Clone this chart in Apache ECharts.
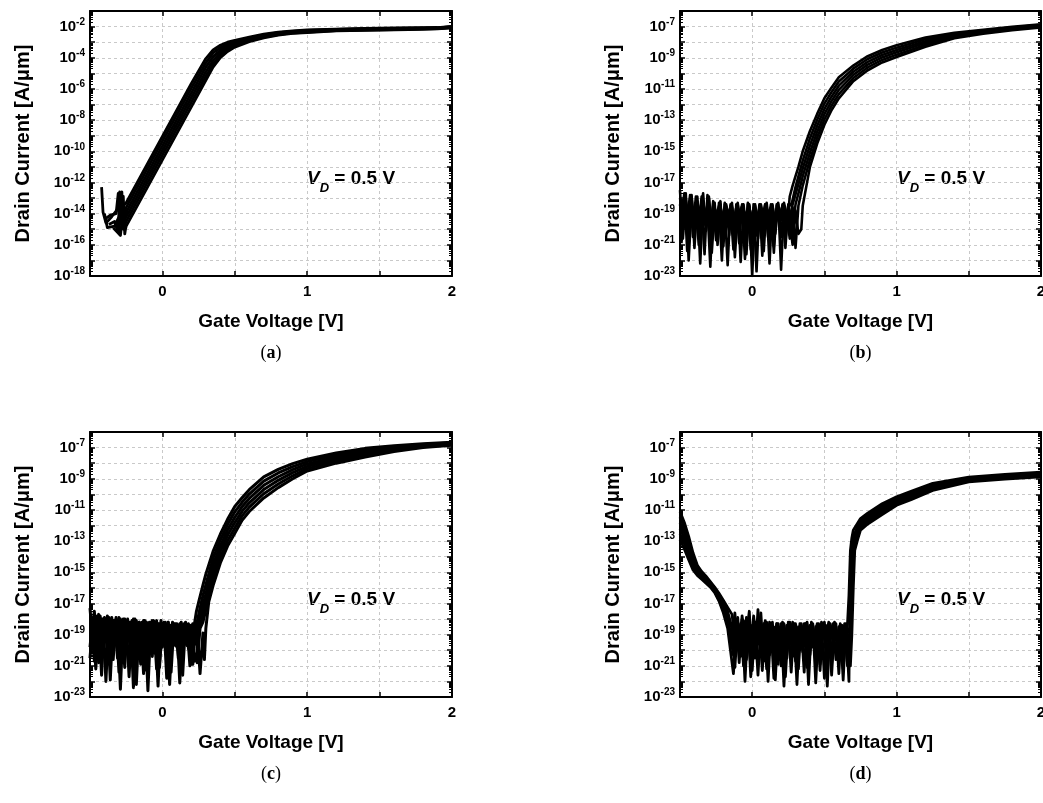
<!DOCTYPE html>
<html><head><meta charset="utf-8">
<script src="https://cdn.jsdelivr.net/npm/echarts@6/dist/echarts.min.js"></script>
<style>html,body{margin:0;padding:0;background:#fff}#c{width:1043px;height:803px}</style>
</head><body><div id="c"></div>
<script>
// ---- tick labels ----
const xTickLabels = [0, 1, 2];
const aYTicks = [-18, -16, -14, -12, -10, -8, -6, -4, -2];
const bcdYTicks = [-23, -21, -19, -17, -15, -13, -11, -9, -7];

// All current values are log10(I [A/um]); the y axes are drawn in decades.

// ---- panel (a) ----
const aStart1 = [[-0.42,-12.3],[-0.41,-13.9],[-0.39,-14.6],[-0.35,-14.2],[-0.31,-13.7],[-0.295,-12.6],[-0.285,-13.9],[-0.27,-13.5]];
const aStart2 = [[-0.40,-14.0],[-0.38,-14.9],[-0.33,-14.8],[-0.30,-14.2],[-0.29,-12.8],[-0.28,-14.2],[-0.265,-14.0]];
const aStart3 = [[-0.39,-14.3],[-0.36,-14.1],[-0.32,-14.0],[-0.305,-12.7],[-0.295,-14.5],[-0.27,-14.3]];
const aStart4 = [[-0.37,-14.7],[-0.33,-14.5],[-0.31,-15.1],[-0.29,-13.2],[-0.275,-14.6],[-0.26,-14.4]];
const aStart5 = [[-0.34,-14.9],[-0.30,-15.3],[-0.29,-13.9],[-0.28,-12.6],[-0.27,-15.0],[-0.26,-14.7]];
const aStart6 = [[-0.32,-15.0],[-0.29,-15.4],[-0.275,-14.2],[-0.27,-12.9],[-0.26,-15.3],[-0.255,-15.0]];
const aX = [-0.25,-0.2,-0.1,0,0.1,0.2,0.3,0.35,0.4,0.45,0.5,0.6,0.7,0.8,0.9,1.0,1.2,1.4,1.6,1.8,1.9,2.0];
const aY1 = [-13.3,-12.45,-10.75,-9.05,-7.35,-5.65,-4.05,-3.5,-3.2,-3.0,-2.88,-2.67,-2.48,-2.35,-2.28,-2.22,-2.16,-2.12,-2.09,-2.07,-2.06,-1.99];
const aY2 = [-13.6,-12.75,-11.05,-9.35,-7.65,-5.95,-4.33,-3.69,-3.36,-3.12,-2.97,-2.73,-2.53,-2.39,-2.31,-2.25,-2.18,-2.14,-2.11,-2.09,-2.08,-2.01];
const aY3 = [-13.9,-13.05,-11.35,-9.65,-7.95,-6.25,-4.6,-3.93,-3.52,-3.24,-3.06,-2.79,-2.58,-2.43,-2.34,-2.28,-2.21,-2.17,-2.14,-2.11,-2.09,-2.02];
const aY4 = [-14.2,-13.35,-11.65,-9.95,-8.25,-6.55,-4.9,-4.17,-3.68,-3.36,-3.14,-2.85,-2.62,-2.47,-2.38,-2.32,-2.23,-2.19,-2.16,-2.13,-2.11,-2.04];
const aY5 = [-14.5,-13.65,-11.95,-10.25,-8.55,-6.85,-5.18,-4.41,-3.84,-3.48,-3.23,-2.91,-2.67,-2.51,-2.41,-2.35,-2.26,-2.22,-2.19,-2.15,-2.13,-2.06];
const aY6 = [-14.8,-13.95,-12.25,-10.55,-8.85,-7.15,-5.45,-4.6,-4.0,-3.6,-3.32,-2.97,-2.72,-2.55,-2.44,-2.38,-2.28,-2.24,-2.21,-2.17,-2.15,-2.08];

// ---- panel (b) ----
const bNoiseX = [-0.50,-0.48,-0.46,-0.44,-0.42,-0.40,-0.38,-0.36,-0.34,-0.32,-0.30,-0.28,-0.26,-0.24,-0.22,-0.20,-0.18,-0.16,-0.14,-0.12,-0.10,-0.08,-0.06,-0.04,-0.02,0,0.02,0.04,0.06,0.08,0.10,0.12,0.14,0.16,0.18,0.20,0.22,0.24];
const bNoiseXb = [-0.49,-0.47,-0.45,-0.43,-0.41,-0.39,-0.37,-0.35,-0.33,-0.31,-0.29,-0.27,-0.25,-0.23,-0.21,-0.19,-0.17,-0.15,-0.13,-0.11,-0.09,-0.07,-0.05,-0.03,-0.01,0.01,0.03,0.05,0.07,0.09,0.11,0.13,0.15,0.17,0.19,0.21,0.23,0.25];
const bN1 = [-17.5,-20.6,-18.0,-19.4,-17.8,-21.2,-18.3,-19.0,-17.7,-20.1,-18.4,-19.6,-18.3,-21.0,-18.6,-19.3,-18.4,-20.4,-18.5,-19.8,-18.3,-22.1,-18.7,-19.5,-18.4,-20.9,-18.6,-19.2,-18.5,-21.4,-18.3,-19.9,-18.6,-20.3,-18.4,-19.4,-18.5,-20.0];
const bN2 = [-19.2,-17.7,-21.4,-18.2,-19.9,-17.9,-20.3,-18.1,-21.6,-17.8,-19.5,-18.5,-20.7,-18.3,-19.4,-18.6,-22.3,-18.4,-20.1,-18.6,-19.0,-18.5,-20.6,-18.3,-19.7,-18.6,-22.7,-18.5,-19.3,-18.4,-20.5,-18.7,-21.1,-18.4,-19.6,-18.5,-20.8,-18.6];
const bN3 = [-18.4,-19.8,-17.7,-22.0,-18.5,-19.2,-17.9,-20.8,-18.3,-19.5,-18.0,-21.5,-18.7,-19.1,-18.4,-20.5,-18.6,-19.7,-18.3,-21.8,-18.8,-19.3,-18.4,-20.2,-18.6,-23.0,-18.5,-20.6,-18.4,-19.4,-18.7,-21.0,-18.5,-19.6,-18.3,-22.6,-18.6,-19.2];
const bN4 = [-20.9,-18.1,-19.3,-17.8,-20.5,-18.6,-19.7,-17.9,-19.1,-18.6,-22.4,-18.3,-19.9,-18.6,-20.8,-18.4,-19.2,-18.7,-21.3,-18.4,-19.6,-18.5,-21.9,-18.4,-19.3,-18.7,-20.4,-18.4,-21.7,-18.6,-19.5,-18.4,-20.6,-18.7,-19.1,-18.5,-21.2,-18.4];
const bN5 = [-18.0,-19.1,-18.4,-20.2,-17.9,-19.6,-18.2,-22.2,-18.3,-19.3,-17.9,-20.0,-18.6,-19.5,-18.2,-21.1,-18.5,-19.0,-18.6,-20.7,-18.4,-19.4,-18.8,-21.6,-18.5,-19.8,-18.4,-20.1,-18.6,-19.3,-18.5,-22.2,-18.4,-19.7,-18.6,-20.5,-18.3,-19.1];
const bN6 = [-19.6,-18.3,-20.4,-18.0,-19.0,-18.4,-21.0,-18.2,-19.7,-18.4,-20.6,-18.2,-19.2,-18.5,-22.0,-18.3,-19.8,-18.5,-19.5,-18.6,-20.9,-18.4,-19.2,-18.7,-21.3,-18.4,-19.6,-18.6,-20.2,-18.4,-19.0,-18.6,-21.5,-18.5,-19.8,-18.4,-20.3,-18.5];
const bR1 = [[0.26,-17.9],[0.28,-17.2],[0.30,-16.6],[0.32,-16.0],[0.35,-15.0],[0.40,-13.7],[0.45,-12.6],[0.50,-11.6],[0.55,-10.9],[0.60,-10.25],[0.70,-9.5],[0.80,-8.9],[0.90,-8.5],[1.0,-8.2],[1.2,-7.7],[1.4,-7.4],[1.6,-7.2],[1.8,-7.02],[2.0,-6.85]];
const bR2 = [[0.26,-18.6],[0.275,-18.3],[0.30,-17.3],[0.32,-16.6],[0.35,-15.6],[0.40,-14.16],[0.45,-12.98],[0.50,-11.94],[0.55,-11.19],[0.60,-10.52],[0.70,-9.7],[0.80,-9.08],[0.90,-8.66],[1.0,-8.35],[1.2,-7.82],[1.4,-7.47],[1.6,-7.25],[1.8,-7.06],[2.0,-6.89]];
const bR3 = [[0.26,-19.3],[0.28,-18.4],[0.29,-18.3],[0.32,-17.1],[0.35,-16.1],[0.40,-14.62],[0.45,-13.36],[0.50,-12.28],[0.55,-11.48],[0.60,-10.79],[0.70,-9.9],[0.80,-9.26],[0.90,-8.82],[1.0,-8.5],[1.2,-7.94],[1.4,-7.54],[1.6,-7.3],[1.8,-7.1],[2.0,-6.93]];
const bR4 = [[0.26,-18.5],[0.28,-20.2],[0.30,-18.4],[0.32,-17.7],[0.35,-16.6],[0.40,-15.08],[0.45,-13.74],[0.50,-12.62],[0.55,-11.77],[0.60,-11.06],[0.70,-10.1],[0.80,-9.44],[0.90,-8.98],[1.0,-8.65],[1.2,-8.06],[1.4,-7.61],[1.6,-7.35],[1.8,-7.14],[2.0,-6.97]];
const bR5 = [[0.26,-20.6],[0.28,-18.6],[0.30,-21.2],[0.32,-18.5],[0.35,-17.2],[0.40,-15.54],[0.45,-14.12],[0.50,-12.96],[0.55,-12.06],[0.60,-11.33],[0.70,-10.3],[0.80,-9.62],[0.90,-9.14],[1.0,-8.8],[1.2,-8.18],[1.4,-7.68],[1.6,-7.4],[1.8,-7.19],[2.0,-7.01]];
const bR6 = [[0.26,-19.5],[0.28,-21.0],[0.30,-18.8],[0.32,-20.3],[0.34,-20.0],[0.35,-18.5],[0.40,-16.0],[0.45,-14.5],[0.50,-13.3],[0.55,-12.35],[0.60,-11.6],[0.70,-10.5],[0.80,-9.8],[0.90,-9.3],[1.0,-8.95],[1.2,-8.3],[1.4,-7.75],[1.6,-7.45],[1.8,-7.23],[2.0,-7.05]];

// ---- panel (c) ----
const cNoiseX = [-0.50,-0.48,-0.46,-0.44,-0.42,-0.40,-0.38,-0.36,-0.34,-0.32,-0.30,-0.28,-0.26,-0.24,-0.22,-0.20,-0.18,-0.16,-0.14,-0.12,-0.10,-0.08,-0.06,-0.04,-0.02,0,0.02,0.04,0.06,0.08,0.10,0.12,0.14,0.16,0.18,0.20,0.22];
const cNoiseXb = [-0.49,-0.47,-0.45,-0.43,-0.41,-0.39,-0.37,-0.35,-0.33,-0.31,-0.29,-0.27,-0.25,-0.23,-0.21,-0.19,-0.17,-0.15,-0.13,-0.11,-0.09,-0.07,-0.05,-0.03,-0.01,0.01,0.03,0.05,0.07,0.09,0.11,0.13,0.15,0.17,0.19,0.21,0.23];
const cN1 = [-17.3,-19.6,-17.9,-20.8,-18.0,-19.2,-17.8,-21.9,-18.1,-19.5,-17.9,-20.3,-18.0,-19.1,-18.2,-22.4,-18.1,-19.7,-18.2,-20.6,-18.3,-19.3,-18.1,-21.2,-18.3,-19.8,-18.2,-20.4,-18.4,-19.2,-18.3,-22.1,-18.4,-19.6,-18.3,-20.9,-18.4];
const cN2 = [-19.0,-17.5,-20.4,-17.8,-19.7,-18.0,-20.9,-17.9,-19.3,-18.1,-22.5,-18.0,-19.8,-18.2,-20.7,-18.0,-19.4,-18.3,-21.5,-18.2,-19.9,-18.1,-20.2,-18.3,-19.5,-18.2,-21.8,-18.4,-19.7,-18.3,-20.5,-18.2,-19.3,-18.4,-21.0,-18.3,-19.6];
const cN3 = [-20.5,-18.2,-19.3,-17.7,-21.6,-18.1,-19.5,-18.0,-20.6,-17.9,-19.2,-18.2,-21.1,-18.0,-19.6,-18.1,-20.3,-18.2,-19.4,-18.1,-22.6,-18.3,-19.7,-18.2,-20.8,-18.3,-19.1,-18.2,-21.4,-18.3,-19.8,-18.4,-20.1,-18.3,-19.4,-18.4,-20.7];
const cN4 = [-18.1,-20.7,-17.8,-19.4,-18.0,-22.0,-17.9,-19.8,-18.2,-20.5,-18.0,-19.3,-18.1,-21.7,-18.1,-19.5,-18.3,-20.9,-18.1,-19.2,-18.2,-20.4,-18.2,-22.3,-18.1,-19.6,-18.4,-20.6,-18.2,-19.3,-18.4,-21.3,-18.3,-19.7,-18.5,-20.2,-18.3];
const cN5 = [-19.8,-17.9,-21.2,-18.1,-19.0,-17.9,-20.2,-18.2,-19.6,-18.0,-21.4,-18.1,-19.4,-18.2,-20.1,-18.0,-22.2,-18.2,-19.3,-18.3,-20.7,-18.2,-19.5,-18.1,-21.1,-18.3,-19.4,-18.2,-20.3,-18.4,-19.0,-18.3,-21.6,-18.2,-19.9,-18.4,-20.4];
const cN6 = [-18.4,-19.1,-18.2,-20.0,-18.3,-19.4,-18.2,-20.6,-18.1,-19.9,-18.3,-20.8,-18.2,-19.0,-18.4,-20.3,-18.3,-19.6,-18.4,-21.3,-18.3,-19.4,-18.5,-20.5,-18.3,-19.2,-18.5,-22.2,-18.3,-19.7,-18.5,-20.1,-18.4,-19.3,-18.5,-20.9,-18.4];
const cR1 = [[0.235,-17.5],[0.25,-16.93],[0.28,-15.82],[0.30,-15.12],[0.35,-13.66],[0.40,-12.56],[0.45,-11.6],[0.50,-10.78],[0.55,-10.22],[0.60,-9.7],[0.70,-8.88],[0.80,-8.4],[0.90,-8.03],[1.0,-7.75],[1.2,-7.35],[1.4,-7.05],[1.6,-6.88],[1.8,-6.75],[2.0,-6.65]];
const cR2 = [[0.24,-18.2],[0.26,-17.3],[0.28,-16.5],[0.30,-15.8],[0.35,-14.1],[0.40,-12.93],[0.45,-11.94],[0.50,-11.12],[0.55,-10.51],[0.60,-9.98],[0.70,-9.15],[0.80,-8.63],[0.90,-8.22],[1.0,-7.9],[1.2,-7.48],[1.4,-7.16],[1.6,-6.95],[1.8,-6.8],[2.0,-6.69]];
const cR3 = [[0.24,-20.1],[0.25,-18.2],[0.28,-17.1],[0.30,-16.4],[0.35,-14.54],[0.40,-13.3],[0.45,-12.29],[0.50,-11.47],[0.55,-10.8],[0.60,-10.26],[0.70,-9.42],[0.80,-8.87],[0.90,-8.42],[1.0,-8.05],[1.2,-7.61],[1.4,-7.27],[1.6,-7.03],[1.8,-6.85],[2.0,-6.73]];
const cR4 = [[0.245,-18.7],[0.265,-18.3],[0.28,-17.6],[0.30,-16.9],[0.35,-14.97],[0.40,-13.66],[0.45,-12.63],[0.50,-11.81],[0.55,-11.09],[0.60,-10.54],[0.70,-9.69],[0.80,-9.1],[0.90,-8.61],[1.0,-8.2],[1.2,-7.74],[1.4,-7.38],[1.6,-7.1],[1.8,-6.9],[2.0,-6.77]];
const cR5 = [[0.24,-20.8],[0.26,-18.6],[0.28,-18.2],[0.30,-17.4],[0.35,-15.41],[0.40,-14.03],[0.45,-12.98],[0.50,-12.16],[0.55,-11.38],[0.60,-10.82],[0.70,-9.96],[0.80,-9.34],[0.90,-8.81],[1.0,-8.35],[1.2,-7.87],[1.4,-7.49],[1.6,-7.18],[1.8,-6.95],[2.0,-6.81]];
const cR6 = [[0.245,-19.3],[0.26,-21.5],[0.28,-18.9],[0.29,-20.6],[0.30,-18.6],[0.32,-16.9],[0.35,-15.85],[0.40,-14.4],[0.45,-13.32],[0.50,-12.5],[0.55,-11.67],[0.60,-11.1],[0.70,-10.23],[0.80,-9.57],[0.90,-9.0],[1.0,-8.5],[1.2,-8.0],[1.4,-7.6],[1.6,-7.25],[1.8,-7.0],[2.0,-6.85]];

// ---- panel (d) ----
const dFallX = [-0.50,-0.47,-0.44,-0.41,-0.38,-0.35,-0.32,-0.29,-0.26,-0.23,-0.20,-0.17];
const dF1 = [-11.1,-11.8,-12.7,-13.75,-14.55,-14.95,-15.25,-15.6,-15.95,-16.35,-16.8,-17.25];
const dF2 = [-11.46,-12.14,-13.0,-13.97,-14.68,-15.05,-15.34,-15.67,-16.02,-16.45,-16.96,-17.52];
const dF3 = [-11.82,-12.48,-13.3,-14.19,-14.81,-15.15,-15.43,-15.74,-16.09,-16.55,-17.12,-17.79];
const dF4 = [-12.18,-12.82,-13.6,-14.41,-14.94,-15.25,-15.52,-15.81,-16.16,-16.65,-17.28,-18.06];
const dF5 = [-12.54,-13.16,-13.9,-14.63,-15.07,-15.35,-15.61,-15.88,-16.23,-16.75,-17.44,-18.33];
const dF6 = [-12.9,-13.5,-14.2,-14.85,-15.2,-15.45,-15.7,-15.95,-16.3,-16.85,-17.6,-18.6];
const dNoiseX = [-0.14,-0.12,-0.10,-0.08,-0.06,-0.04,-0.02,0,0.02,0.04,0.06,0.08,0.10,0.12,0.14,0.16,0.18,0.20,0.22,0.24,0.26,0.28,0.30,0.32,0.34,0.36,0.38,0.40,0.42,0.44,0.46,0.48,0.50,0.52,0.54,0.56,0.58,0.60,0.62,0.64,0.66];
const dNoiseXb = [-0.13,-0.11,-0.09,-0.07,-0.05,-0.03,-0.01,0.01,0.03,0.05,0.07,0.09,0.11,0.13,0.15,0.17,0.19,0.21,0.23,0.25,0.27,0.29,0.31,0.33,0.35,0.37,0.39,0.41,0.43,0.45,0.47,0.49,0.51,0.53,0.55,0.57,0.59,0.61,0.63,0.65,0.67];
const dN1 = [-17.7,-19.2,-17.9,-20.4,-18.1,-19.0,-17.5,-21.3,-18.2,-19.6,-17.6,-20.7,-18.3,-19.4,-18.2,-21.9,-18.3,-19.8,-18.4,-20.5,-18.2,-19.3,-18.4,-21.2,-18.3,-19.7,-18.5,-20.3,-18.3,-22.1,-18.4,-19.5,-18.2,-20.8,-18.4,-19.2,-18.3,-21.5,-18.4,-19.9,-18.3];
const dN2 = [-18.9,-18.0,-20.8,-17.8,-19.5,-18.2,-21.7,-18.0,-19.3,-18.3,-20.2,-18.1,-22.0,-18.4,-19.6,-18.3,-20.6,-18.2,-19.1,-18.4,-21.4,-18.3,-19.7,-18.5,-20.1,-18.3,-22.2,-18.4,-19.4,-18.3,-20.9,-18.5,-19.5,-18.2,-21.6,-18.4,-19.8,-18.3,-20.4,-18.5,-22.0];
const dN3 = [-19.6,-17.6,-19.9,-18.3,-21.0,-17.9,-19.4,-18.4,-20.5,-17.4,-19.8,-18.3,-21.2,-18.2,-19.3,-18.5,-20.9,-18.3,-22.3,-18.4,-19.6,-18.2,-20.7,-18.5,-19.3,-18.3,-21.1,-18.4,-19.8,-18.5,-20.2,-18.2,-21.8,-18.4,-19.4,-18.3,-20.6,-18.5,-19.7,-18.3,-21.0];
const dN4 = [-20.3,-18.4,-19.1,-18.0,-22.0,-18.3,-19.7,-17.8,-20.1,-18.4,-19.2,-18.2,-20.6,-18.5,-21.8,-18.3,-19.4,-18.4,-20.3,-18.2,-19.5,-18.5,-22.2,-18.3,-19.9,-18.4,-20.6,-18.2,-19.2,-18.4,-21.3,-18.3,-19.7,-18.5,-20.5,-18.2,-19.3,-18.4,-21.9,-18.3,-20.0];
const dN5 = [-18.5,-21.1,-18.3,-19.5,-18.5,-20.6,-18.2,-19.3,-18.5,-21.6,-18.4,-19.7,-18.2,-20.3,-18.4,-19.1,-18.5,-21.0,-18.3,-19.8,-18.5,-20.4,-18.3,-19.2,-18.5,-21.4,-18.2,-19.6,-18.4,-20.8,-18.3,-19.3,-18.5,-22.3,-18.3,-19.5,-18.5,-20.2,-18.4,-19.4,-18.6];
const dN6 = [-21.5,-18.8,-20.0,-18.6,-19.3,-18.5,-20.9,-18.4,-19.5,-18.6,-21.3,-18.5,-19.9,-18.3,-20.5,-18.6,-19.2,-18.4,-21.7,-18.5,-19.6,-18.4,-20.3,-18.6,-19.4,-18.3,-21.0,-18.5,-19.7,-18.4,-20.4,-18.6,-19.1,-18.3,-20.9,-18.5,-19.6,-18.4,-21.2,-18.5,-19.5];
const dR1 = [[0.67,-16.5],[0.68,-13.6],[0.69,-12.8],[0.70,-12.3],[0.75,-11.55],[0.80,-11.2],[0.90,-10.6],[1.0,-10.15],[1.1,-9.8],[1.25,-9.3],[1.5,-8.9],[1.75,-8.72],[2.0,-8.58]];
const dR2 = [[0.675,-17.8],[0.685,-14.5],[0.695,-13.2],[0.70,-12.7],[0.75,-11.7],[0.80,-11.34],[0.90,-10.74],[1.0,-10.26],[1.1,-9.91],[1.25,-9.39],[1.5,-8.96],[1.75,-8.78],[2.0,-8.64]];
const dR3 = [[0.68,-18.9],[0.69,-15.0],[0.70,-13.1],[0.72,-12.5],[0.75,-11.85],[0.80,-11.48],[0.90,-10.88],[1.0,-10.37],[1.1,-10.02],[1.25,-9.48],[1.5,-9.02],[1.75,-8.84],[2.0,-8.7]];
const dR4 = [[0.68,-20.2],[0.69,-15.8],[0.70,-13.4],[0.72,-12.7],[0.75,-12.0],[0.80,-11.62],[0.90,-11.02],[1.0,-10.48],[1.1,-10.13],[1.25,-9.57],[1.5,-9.08],[1.75,-8.9],[2.0,-8.76]];
const dR5 = [[0.685,-19.0],[0.695,-15.4],[0.705,-13.5],[0.72,-12.9],[0.75,-12.15],[0.80,-11.76],[0.90,-11.16],[1.0,-10.59],[1.1,-10.24],[1.25,-9.66],[1.5,-9.14],[1.75,-8.96],[2.0,-8.82]];
const dR6 = [[0.68,-21.0],[0.69,-19.0],[0.70,-16.0],[0.71,-13.6],[0.73,-12.9],[0.75,-12.3],[0.80,-11.9],[0.90,-11.3],[1.0,-10.7],[1.1,-10.35],[1.25,-9.75],[1.5,-9.2],[1.75,-9.02],[2.0,-8.88]];

// ---- build ----
const pts = list => list.map(p => [p[0], p[1]]);
const zipXY = (xs, es) => xs.map((x, i) => [x, es[i]]);

const curves = [
  [[aStart1, aY1], [aStart2, aY2], [aStart3, aY3], [aStart4, aY4], [aStart5, aY5], [aStart6, aY6]]
    .map(c => pts(c[0]).concat(zipXY(aX, c[1]))),
  [[bNoiseX, bN1, bR1], [bNoiseXb, bN2, bR2], [bNoiseX, bN3, bR3], [bNoiseXb, bN4, bR4], [bNoiseX, bN5, bR5], [bNoiseXb, bN6, bR6]]
    .map(c => zipXY(c[0], c[1]).concat(pts(c[2]))),
  [[cNoiseX, cN1, cR1], [cNoiseXb, cN2, cR2], [cNoiseX, cN3, cR3], [cNoiseXb, cN4, cR4], [cNoiseX, cN5, cR5], [cNoiseXb, cN6, cR6]]
    .map(c => zipXY(c[0], c[1]).concat(pts(c[2]))),
  [[dF1, dNoiseX, dN1, dR1], [dF2, dNoiseXb, dN2, dR2], [dF3, dNoiseX, dN3, dR3], [dF4, dNoiseXb, dN4, dR4], [dF5, dNoiseX, dN5, dR5], [dF6, dNoiseXb, dN6, dR6]]
    .map(c => zipXY(dFallX, c[0]).concat(zipXY(c[1], c[2])).concat(pts(c[3])))
];

const SANS = '"Liberation Sans", Arial, Helvetica, sans-serif';
const SERIF = '"Liberation Serif", "DejaVu Serif", serif';
const gridBoxes = [
  {left: 90, top: 11, width: 362, height: 265},
  {left: 680, top: 11, width: 361, height: 265},
  {left: 90, top: 432, width: 362, height: 265},
  {left: 680, top: 432, width: 361, height: 265}
];
const yLimits = [[-18, -1], [-23, -6], [-23, -6], [-23, -6]];
const yTickSets = [aYTicks, bcdYTicks, bcdYTicks, bcdYTicks];
const lineWidths = [2.8, 2.6, 3.0, 2.8];

// log-style minor tick positions (2..9 within each decade)
function minorTicks(lo, hi) {
  const out = [];
  for (let n = lo; n < hi; n++) for (let k = 2; k <= 9; k++) out.push(n + Math.log10(k));
  return out;
}

const mkAxisLine = (show) => ({show: show, onZero: false, lineStyle: {color: '#000', width: 2}});
const mkDash = () => ({show: true, lineStyle: {color: '#c9c9c9', width: 1, type: [3, 3]}});
const mkTick = (len, w) => ({show: true, inside: true, length: len, lineStyle: {color: '#000', width: w}});

const xAxes = [], yAxes = [], series = [];
gridBoxes.forEach((g, gi) => {
  xAxes.push({gridIndex: gi, type: 'value', min: -0.5, max: 2, interval: 0.5, position: 'bottom',
    axisLine: mkAxisLine(true), axisTick: mkTick(5, 1.5),
    axisLabel: {show: true, color: '#000', fontFamily: SANS, fontWeight: 'bold', fontSize: 15, margin: 8,
      formatter: v => xTickLabels.includes(v) ? String(v) : ''},
    splitLine: mkDash(),
    name: 'Gate Voltage [V]', nameLocation: 'middle', nameGap: 36,
    nameTextStyle: {color: '#000', fontFamily: SANS, fontWeight: 'bold', fontSize: 19}
  });
  xAxes.push({gridIndex: gi, type: 'value', min: -0.5, max: 2, interval: 0.5, position: 'top',
    axisLine: mkAxisLine(true), axisTick: mkTick(5, 1.5), axisLabel: {show: false}, splitLine: {show: false}});

  const ticks = yTickSets[gi];
  const lo = yLimits[gi][0], hi = yLimits[gi][1];
  yAxes.push({gridIndex: gi, type: 'value', min: lo, max: hi, interval: 1, position: 'left',
    axisLine: mkAxisLine(true), axisTick: mkTick(5, 1.5),
    axisLabel: {show: true, color: '#000', margin: 5,
      formatter: v => ticks.includes(Math.round(v)) ? '{m|10}{s|' + Math.round(v) + '}' : '',
      rich: {
        m: {fontFamily: SANS, fontWeight: 'bold', fontSize: 15, color: '#000'},
        s: {fontFamily: SANS, fontWeight: 'bold', fontSize: 10, color: '#000', padding: [0, 0, 9, 0]}
      }},
    splitLine: mkDash(),
    name: 'Drain Current [A/\u03bcm]', nameLocation: 'middle', nameGap: 57, nameRotate: 90,
    nameTextStyle: {color: '#000', fontFamily: SANS, fontWeight: 'bold', fontSize: 20}
  });
  yAxes.push({gridIndex: gi, type: 'value', min: lo, max: hi, interval: 1, position: 'right',
    axisLine: mkAxisLine(true), axisTick: mkTick(5, 1.5), axisLabel: {show: false}, splitLine: {show: false}});
  const mt = minorTicks(lo, hi);
  ['left', 'right'].forEach(pos => {
    yAxes.push({gridIndex: gi, type: 'value', min: lo, max: hi, interval: 1, position: pos,
      axisLine: mkAxisLine(false),
      axisTick: {show: true, inside: true, length: 3, customValues: mt, lineStyle: {color: '#000', width: 1}},
      axisLabel: {show: false}, splitLine: {show: false}});
  });

  curves[gi].forEach(data => {
    series.push({type: 'line', xAxisIndex: gi * 2, yAxisIndex: gi * 4, data: data, showSymbol: false, symbol: 'none',
      silent: true, clip: true, lineStyle: {color: '#000', width: lineWidths[gi], join: 'round'}, z: 3});
  });
});

const vdRich = {
  v: {fontFamily: SANS, fontWeight: 'bold', fontStyle: 'italic', fontSize: 19, fill: '#000'},
  d: {fontFamily: SANS, fontWeight: 'bold', fontStyle: 'italic', fontSize: 13, fill: '#000', padding: [19, 0, 0, 0]},
  t: {fontFamily: SANS, fontWeight: 'bold', fontSize: 19, fill: '#000'}
};
const graphic = [];
gridBoxes.forEach((g, gi) => {
  graphic.push({type: 'text', x: g.left + 217, y: g.top + 152,
    style: {text: '{v|V}{d|D}{t| = 0.5 V}', rich: vdRich, fill: '#000'}});
  graphic.push({type: 'text', x: g.left + g.width / 2, y: g.top + 342,
    style: {text: '({b|' + 'abcd'[gi] + '})', align: 'center', verticalAlign: 'middle',
      fontFamily: SERIF, fontSize: 18, fill: '#000',
      rich: {b: {fontFamily: SERIF, fontSize: 18, fontWeight: 'bold', fill: '#000'}}}});
});

const chart = echarts.init(document.getElementById('c'), null, {renderer: 'canvas'});
chart.setOption({
  animation: false,
  backgroundColor: '#fff',
  grid: gridBoxes.map(g => ({left: g.left, top: g.top, width: g.width, height: g.height, outerBoundsMode: 'none', containLabel: false})),
  xAxis: xAxes,
  yAxis: yAxes,
  series: series,
  graphic: graphic
});
</script></body></html>
